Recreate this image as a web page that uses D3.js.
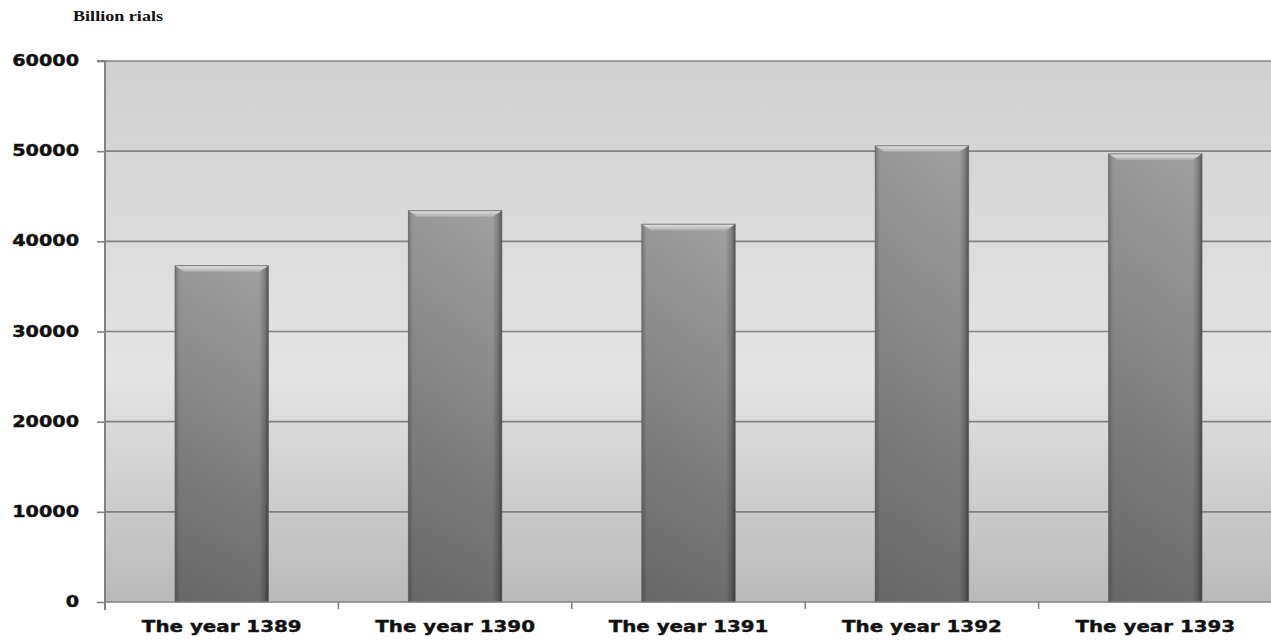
<!DOCTYPE html>
<html>
<head>
<meta charset="utf-8">
<script src="https://cdn.jsdelivr.net/npm/d3@7/dist/d3.min.js"></script>
<style>
html,body{margin:0;padding:0;background:#fff;}
svg{display:block;}
</style>
</head>
<body>
<svg id="chart" width="1271" height="641"></svg>
<script>
const categories = ["The year 1389","The year 1390","The year 1391","The year 1392","The year 1393"];
const values = [37300, 43400, 41900, 50600, 49700];
const yTicks = [0, 10000, 20000, 30000, 40000, 50000, 60000];
const unitLabel = "Billion rials";

const svg = d3.select("#chart");
const W = 1271, H = 641;
const m = {left:105, right:-1, top:61, bottom:39};
const pw = W - m.left - m.right, ph = H - m.top - m.bottom;

const x = d3.scaleBand().domain(categories).range([m.left, m.left + pw]).paddingInner(0.6).paddingOuter(0.3);
const y = d3.scaleLinear().domain([0, 60000]).range([m.top + ph, m.top]);

const defs = svg.append("defs");
const bg = defs.append("linearGradient").attr("id","bg").attr("x1",0).attr("y1",0).attr("x2",0).attr("y2",1);
bg.append("stop").attr("offset","0%").attr("stop-color","#d0d0d0");
bg.append("stop").attr("offset","58%").attr("stop-color","#e4e4e4");
bg.append("stop").attr("offset","100%").attr("stop-color","#b9b9b9");

const barG = defs.append("linearGradient").attr("id","barg").attr("x1",0).attr("y1",0).attr("x2",0).attr("y2",1);
barG.append("stop").attr("offset","0%").attr("stop-color","#a0a0a0");
barG.append("stop").attr("offset","100%").attr("stop-color","#6c6c6c");

const sideG = defs.append("linearGradient").attr("id","side").attr("x1",0).attr("y1",0).attr("x2",1).attr("y2",0);
sideG.append("stop").attr("offset","0%").attr("stop-color","#000").attr("stop-opacity",0.25);
sideG.append("stop").attr("offset","5%").attr("stop-color","#000").attr("stop-opacity",0.05);
sideG.append("stop").attr("offset","90%").attr("stop-color","#000").attr("stop-opacity",0.0);
sideG.append("stop").attr("offset","96%").attr("stop-color","#000").attr("stop-opacity",0.2);
sideG.append("stop").attr("offset","100%").attr("stop-color","#000").attr("stop-opacity",0.45);

const topG = defs.append("linearGradient").attr("id","topg").attr("x1",0).attr("y1",0).attr("x2",0).attr("y2",1);
topG.append("stop").attr("offset","0%").attr("stop-color","#e2e2e2");
topG.append("stop").attr("offset","100%").attr("stop-color","#b0b0b0");

// plot background
svg.append("rect").attr("x", m.left).attr("y", m.top).attr("width", pw).attr("height", ph).attr("fill","url(#bg)");

// gridlines
svg.append("g").selectAll("line").data(yTicks.filter(d => d > 0)).join("line")
  .attr("x1", m.left).attr("x2", m.left + pw)
  .attr("y1", d => y(d)).attr("y2", d => y(d))
  .attr("stroke","#828282").attr("stroke-width",1.6);

// bars
const bars = svg.append("g").selectAll("g").data(categories).join("g");
bars.append("rect")
  .attr("x", d => x(d)).attr("y", (d,i) => y(values[i]))
  .attr("width", x.bandwidth()).attr("height", (d,i) => y(0) - y(values[i]))
  .attr("fill","url(#barg)");
bars.append("rect")
  .attr("x", d => x(d)).attr("y", (d,i) => y(values[i]))
  .attr("width", x.bandwidth()).attr("height", (d,i) => y(0) - y(values[i]))
  .attr("fill","url(#side)");
bars.append("path")
  .attr("d", (d,i) => {
    const x0 = x(d), x1 = x(d) + x.bandwidth(), t = y(values[i]), b = 6, s = 9;
    return `M${x0},${t}L${x1},${t}L${x1-s},${t+b}L${x0+s},${t+b}Z`;
  })
  .attr("fill","url(#topg)");
bars.append("rect")
  .attr("x", d => x(d)).attr("y", (d,i) => y(values[i]))
  .attr("width", x.bandwidth()).attr("height", (d,i) => y(0) - y(values[i]))
  .attr("fill","none").attr("stroke","#5a5a5a").attr("stroke-width",1).attr("stroke-opacity",0.7);

function stretch(sel, f) {
  sel.each(function() {
    const L = this.getComputedTextLength();
    d3.select(this).attr("textLength", L * f).attr("lengthAdjust", "spacingAndGlyphs");
  });
}

// y axis
const yAxis = d3.axisLeft(y).tickValues(yTicks).tickSize(8).tickPadding(18).tickFormat(d3.format("d"));
const ya = svg.append("g").attr("transform", `translate(${m.left},0)`).call(yAxis);
ya.select(".domain").attr("stroke","#828282").attr("stroke-width",2).attr("d", `M-8,${y(60000)}H0V${y(0)+8}`);
ya.selectAll(".tick line").attr("stroke","#828282").attr("stroke-width",1.6);
ya.selectAll(".tick text").attr("fill","#111").attr("font-family","'DejaVu Sans', Verdana, sans-serif")
  .attr("font-weight","bold").attr("font-size","15px").attr("dy","0.3em").attr("stroke","#111").attr("stroke-width",0.4);
stretch(ya.selectAll(".tick text"), 1.28);

// x axis
const xAxis = d3.axisBottom(x).tickSize(0).tickPadding(19);
const xa = svg.append("g").attr("transform", `translate(0,${y(0)})`).call(xAxis);
xa.select(".domain").attr("stroke","#828282").attr("stroke-width",1.6).attr("d", `M${m.left},0H${m.left+pw}`);
xa.selectAll(".tick text").attr("fill","#111").attr("font-family","'DejaVu Sans', Verdana, sans-serif")
  .attr("font-weight","bold").attr("font-size","16px").attr("stroke","#111").attr("stroke-width",0.4);
stretch(xa.selectAll(".tick text"), 1.24);
// category separators
const step = x.step();
const seps = d3.range(0, categories.length + 1).map(i => m.left + i * step);
svg.append("g").selectAll("line").data(seps).join("line")
  .attr("x1", d => d).attr("x2", d => d).attr("y1", y(0)).attr("y2", y(0) + 7)
  .attr("stroke","#828282").attr("stroke-width",1.6);

// unit label
const ul = svg.append("text").attr("x", 73).attr("y", 21).text(unitLabel)
  .attr("font-family","'Liberation Serif','DejaVu Serif',serif").attr("font-weight","bold")
  .attr("font-size","14px").attr("fill","#111");
ul.attr("textLength", 90).attr("lengthAdjust","spacingAndGlyphs");
</script>
</body>
</html>
